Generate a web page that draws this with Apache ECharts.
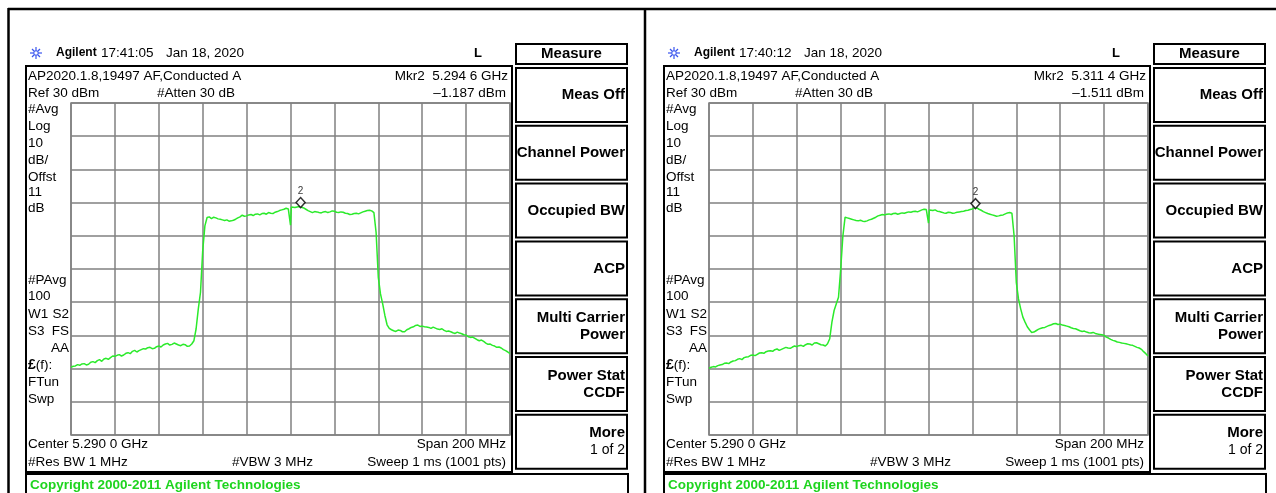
<!DOCTYPE html>
<html>
<head>
<meta charset="utf-8">
<script src="https://cdn.jsdelivr.net/npm/echarts@6.0.0/dist/echarts.min.js"></script>
<style>
html, body { margin: 0; padding: 0; background: #fff; }
#main { width: 1276px; height: 493px; }
</style>
</head>
<body>
<div id="main"></div>
<script>
// frequency offset from center 5.290 GHz, in MHz (span 200 MHz)
var freqMHz = [-100,-99,-98,-97,-96,-95,-94,-93,-92,-91,-90,-89,-88,-87,-86,-85,-84,-83,-82,-81,
  -80,-79,-78,-77,-76,-75,-74,-73,-72,-71,-70,-69,-68,-67,-66,-65,-64,-63,-62,-61,
  -60,-59,-58,-57,-56,-55,-54,-53,-52,-51,-50,-49,-48,-47,-46,-45,-44,-43,-42,-41,
  -40,-39,-38,-37,-36,-35,-34,-33,-32,-31,-30,-29,-28,-27,-26,-25,-24,-23,-22,-21,
  -20,-19,-18,-17,-16,-15,-14,-13,-12,-11,-10,-9,-8,-7,-6,-5,-4,-3,-2,-1,
  -0.4,0,0.4,
  1,2,3,4,5,6,7,8,9,10,11,12,13,14,15,16,17,18,19,20,
  21,22,23,24,25,26,27,28,29,30,31,32,33,34,35,36,37,38,39,40,
  41,42,43,44,45,46,47,48,49,50,51,52,53,54,55,56,57,58,59,60,
  61,62,63,64,65,66,67,68,69,70,71,72,73,74,75,76,77,78,79,80,
  81,82,83,84,85,86,87,88,89,90,91,92,93,94,95,96,97,98,99,100];

// dBm, left screen (17:41:05)
var traceLeft = [-49.6,-49.3,-49.2,-48.8,-49.0,-48.6,-48.5,-48.9,-48.7,-48.1,
  -47.9,-48.2,-47.6,-47.3,-47.8,-47.1,-46.9,-47.2,-46.7,-46.2,
  -46.3,-46.0,-45.8,-46.2,-45.9,-45.4,-45.2,-45.5,-44.8,-44.5,
  -45.0,-44.6,-44.3,-44.0,-44.1,-43.7,-43.6,-44.0,-43.9,-43.4,
  -43.2,-43.5,-42.9,-42.6,-42.4,-42.9,-42.7,-42.3,-42.6,-42.9,
  -43.1,-42.7,-42.8,-43.3,-43.2,-42.6,-41.6,-38.0,-32.0,-27.0,
  -14.5,-7.0,-4.5,-4.3,-4.8,-4.4,-4.6,-4.9,-5.0,-5.2,
  -5.4,-5.2,-5.6,-5.5,-5.3,-5.0,-4.6,-4.3,-3.8,-4.1,
  -4.0,-3.7,-3.6,-3.9,-3.5,-3.4,-3.7,-3.3,-3.2,-3.5,
  -3.0,-3.2,-3.3,-2.9,-2.7,-2.4,-2.2,-2.0,-1.7,-1.9,
  -1.4,-6.8,-1.3,
  -1.6,-1.5,-1.3,-1.2,-1.4,-1.6,-2.0,-2.4,-2.7,-3.0,
  -2.7,-2.8,-3.0,-3.1,-2.8,-2.7,-3.0,-2.8,-2.5,-2.6,
  -2.9,-3.0,-2.8,-2.9,-3.2,-3.3,-3.6,-3.5,-3.3,-3.2,
  -3.4,-3.1,-2.8,-2.6,-2.4,-2.3,-2.5,-3.0,-9.0,-22.5,
  -27.5,-30.5,-34.0,-36.8,-37.9,-38.3,-38.6,-38.8,-38.4,-38.5,
  -38.9,-38.9,-38.3,-38.0,-37.6,-37.4,-37.0,-36.9,-37.3,-37.2,
  -37.4,-37.5,-37.6,-37.9,-37.5,-37.8,-38.1,-38.2,-38.0,-38.5,
  -38.8,-38.7,-38.9,-39.2,-39.4,-39.0,-39.3,-39.5,-39.8,-39.9,
  -40.4,-40.6,-40.5,-40.9,-41.3,-41.6,-41.4,-41.8,-42.3,-42.7,
  -42.6,-43.0,-43.2,-43.6,-43.5,-43.8,-44.3,-44.6,-45.0,-45.5];

// dBm, right screen (17:40:12)
var traceRight = [-49.9,-49.6,-49.4,-49.5,-49.1,-48.9,-48.8,-48.4,-48.3,-48.5,
  -48.0,-47.7,-47.6,-47.2,-47.0,-47.3,-46.7,-46.5,-46.4,-46.0,
  -45.9,-46.1,-45.7,-45.3,-45.2,-45.4,-44.9,-44.7,-44.6,-44.8,
  -44.3,-44.1,-44.5,-44.2,-43.9,-43.6,-43.8,-43.9,-43.5,-43.2,
  -43.4,-43.1,-43.0,-43.3,-42.8,-42.5,-42.6,-42.9,-42.3,-42.2,
  -42.5,-42.8,-42.9,-43.2,-42.5,-41.0,-36.0,-32.5,-30.5,-28.5,
  -20.0,-10.0,-4.4,-4.6,-4.8,-5.0,-5.2,-5.4,-5.5,-5.3,
  -5.6,-5.7,-5.5,-5.2,-5.0,-4.7,-4.4,-4.0,-3.8,-3.6,
  -3.7,-3.5,-3.4,-3.6,-3.3,-3.2,-3.5,-3.3,-3.1,-3.2,
  -3.0,-2.8,-2.9,-2.7,-2.6,-2.8,-2.5,-2.2,-2.0,-2.1,
  -1.9,-6.2,-2.2,
  -2.3,-2.4,-2.2,-2.6,-2.7,-2.9,-3.1,-3.2,-2.9,-3.0,
  -3.2,-3.1,-2.9,-2.8,-2.7,-2.6,-2.4,-2.3,-2.1,-1.9,
  -1.6,-1.6,-2.0,-2.3,-2.7,-3.0,-3.3,-3.5,-3.7,-3.9,
  -4.1,-4.0,-3.8,-3.7,-3.4,-3.1,-3.0,-3.2,-10.0,-24.0,
  -29.0,-32.0,-34.5,-36.0,-37.4,-38.3,-39.1,-39.0,-38.6,-38.2,
  -37.9,-37.7,-37.6,-37.3,-37.0,-36.8,-36.5,-36.4,-36.7,-36.6,
  -36.9,-37.0,-37.2,-37.4,-37.7,-37.9,-38.0,-38.3,-38.6,-38.8,
  -38.7,-39.0,-39.2,-39.3,-39.1,-39.4,-39.6,-39.7,-39.8,-40.0,
  -40.5,-40.8,-41.2,-41.5,-41.7,-42.0,-42.1,-42.3,-42.4,-42.5,
  -42.7,-42.9,-43.0,-43.3,-43.6,-43.8,-44.2,-44.9,-45.5,-46.2];

// marker 2 : [MHz offset, dBm]
var markerLeft = [4.6, -1.187];
var markerRight = [21.4, -1.511];

var headerTimes = ['17:41:05', '17:40:12'];
var markerFreqText = ['5.294 6 GHz', '5.311 4 GHz'];
var markerLevelText = ['\u20131.187 dBm', '\u20131.511 dBm'];
var softKeys = [['Meas Off'], ['Channel Power'], ['Occupied BW'], ['ACP'],
  ['Multi Carrier', 'Power'], ['Power Stat', 'CCDF'], ['More', '1 of 2']];
var sideLabels = [['#Avg', 109], ['Log', 126], ['10', 143], ['dB/', 160], ['Offst', 177],
  ['11', 192], ['dB', 208], ['#PAvg', 280], ['100', 296], ['FTun', 382], ['Swp', 399]];

var INFO = '13.5px "Liberation Sans"';
var KEY = 'bold 15px "Liberation Sans"';

function txt(x, y, s, opt) {
  var st = { text: s, font: INFO, fill: '#000', align: 'left', textAlign: 'left',
    verticalAlign: 'middle', textVerticalAlign: 'middle' };
  for (var k in (opt || {})) st[k] = opt[k];
  if (st.align === 'right') st.textAlign = 'right';
  return { type: 'text', x: x, y: y, silent: true, z: 10, style: st };
}
function rightTxt(x, y, s, opt) {
  var o = { align: 'right' };
  for (var k in (opt || {})) o[k] = opt[k];
  return txt(x, y, s, o);
}
function box(x, y, w, h, lw) {
  return { type: 'rect', silent: true, z: 10, shape: { x: x, y: y, width: w, height: h },
    style: { fill: 'none', stroke: '#000', lineWidth: lw || 2 } };
}
function seg(x1, y1, x2, y2, col, lw) {
  return { type: 'line', silent: true, z: 10, shape: { x1: x1, y1: y1, x2: x2, y2: y2 },
    style: { stroke: col, lineWidth: lw } };
}

function panel(i) {
  var d = i * 638;
  var g = [];
  // logo
  g.push(seg(30 + d, 53, 42 + d, 53, '#3a55ee', 1.2));
  g.push(seg(36 + d, 47, 36 + d, 59, '#3a55ee', 1.2));
  g.push(seg(32 + d, 49, 40 + d, 57, '#3a55ee', 1.2));
  g.push(seg(40 + d, 49, 32 + d, 57, '#3a55ee', 1.2));
  g.push({ type: 'circle', silent: true, z: 11, shape: { cx: 36 + d, cy: 53, r: 2.2 },
    style: { fill: '#fff', stroke: '#3a55ee', lineWidth: 1 } });
  g.push(txt(56 + d, 53, 'Agilent', { font: 'bold 12px "Liberation Sans"' }));
  g.push(txt(101 + d, 53, headerTimes[i]));
  g.push(txt(166 + d, 53, 'Jan 18, 2020'));
  g.push(txt(474 + d, 53, 'L', { font: 'bold 13px "Liberation Sans"' }));

  // info box
  g.push(box(26 + d, 66, 486, 406, 2));
  g.push(txt(28 + d, 76, 'AP2020.1.8,19497 AF,Conducted A'));
  g.push(rightTxt(508 + d, 76, 'Mkr2  ' + markerFreqText[i]));
  g.push(txt(28 + d, 93, 'Ref 30 dBm'));
  g.push(txt(157 + d, 93, '#Atten 30 dB'));
  g.push(rightTxt(506 + d, 93, markerLevelText[i]));
  sideLabels.forEach(function (l) { g.push(txt(28 + d, l[1], l[0])); });
  g.push(txt(28 + d, 314, 'W1'));
  g.push(rightTxt(69 + d, 314, 'S2'));
  g.push(txt(28 + d, 331, 'S3'));
  g.push(rightTxt(69 + d, 331, 'FS'));
  g.push(rightTxt(69 + d, 348, 'AA'));
  g.push(txt(28 + d, 365, '{b|\u00a3}(f):', { rich: { b: { font: 'bold 14px "Liberation Sans"' } } }));
  g.push(txt(28 + d, 444, 'Center 5.290 0 GHz'));
  g.push(rightTxt(506 + d, 444, 'Span 200 MHz'));
  g.push(txt(28 + d, 462, '#Res BW 1 MHz'));
  g.push(txt(232 + d, 462, '#VBW 3 MHz'));
  g.push(rightTxt(506 + d, 462, 'Sweep 1 ms (1001 pts)'));

  // copyright strip
  g.push(box(26 + d, 474, 602, 26, 2));
  g.push(txt(30 + d, 485, 'Copyright 2000-2011 Agilent Technologies',
    { font: 'bold 13.5px "Liberation Sans"', fill: '#1ed41e' }));

  // soft keys
  g.push(box(516 + d, 44, 111, 20, 2));
  g.push(txt(571.5 + d, 54, 'Measure', { font: KEY, align: 'center', textAlign: 'center' }));
  softKeys.forEach(function (k, j) {
    var y = 68 + j * 57.8;
    g.push(box(516 + d, y, 111, 54, 2));
    if (k.length === 1) {
      g.push(rightTxt(625 + d, y + 27, k[0], { font: KEY }));
    } else {
      g.push(rightTxt(625 + d, y + 18.5, k[0], { font: KEY }));
      g.push(rightTxt(625 + d, y + 35.5, k[1], { font: j === 6 ? '14px "Liberation Sans"' : KEY }));
    }
  });
  return g;
}

var frame = [
  seg(8, 9, 1276, 9, '#000', 2.5),
  seg(8.5, 8, 8.5, 493, '#000', 2.5),
  seg(645, 8, 645, 493, '#000', 2.5)
];

function pairs(ys) {
  return ys.map(function (v, k) { return [freqMHz[k], v]; });
}

var grids = [0, 1].map(function (i) {
  return { left: 71 + 638 * i, top: 103, width: 439, height: 332, show: true,
    borderColor: '#808080', borderWidth: 1.5, backgroundColor: 'transparent' };
});
var xAxes = [0, 1].map(function (i) {
  return { type: 'value', gridIndex: i, min: -100, max: 100, interval: 20,
    axisLine: { show: false }, axisTick: { show: false }, axisLabel: { show: false },
    splitLine: { show: true, lineStyle: { color: '#808080', width: 1.5 } } };
});
var yAxes = [0, 1].map(function (i) {
  return { type: 'value', gridIndex: i, min: -70, max: 30, interval: 10,
    axisLine: { show: false }, axisTick: { show: false }, axisLabel: { show: false },
    splitLine: { show: true, lineStyle: { color: '#808080', width: 1.5 } } };
});

function traceSeries(i, ys) {
  return { type: 'line', xAxisIndex: i, yAxisIndex: i, data: pairs(ys), symbol: 'none',
    lineStyle: { color: '#2bea2b', width: 1.5 }, z: 3 };
}
function markerSeries(i, m) {
  return { type: 'scatter', xAxisIndex: i, yAxisIndex: i, data: [m], symbol: 'diamond',
    symbolSize: [9, 10], symbolOffset: [0, -4], z: 5,
    itemStyle: { color: '#fff', borderColor: '#000', borderWidth: 1.5 },
    label: { show: true, formatter: '2', position: 'top', distance: 1, fontSize: 10,
      color: '#000', fontFamily: 'Liberation Sans' } };
}

var myChart = echarts.init(document.getElementById('main'));
myChart.setOption({
  animation: false,
  backgroundColor: '#fff',
  grid: grids,
  xAxis: xAxes,
  yAxis: yAxes,
  series: [traceSeries(0, traceLeft), traceSeries(1, traceRight),
    markerSeries(0, markerLeft), markerSeries(1, markerRight)],
  graphic: { elements: frame.concat(panel(0), panel(1)) }
});
</script>
</body>
</html>
